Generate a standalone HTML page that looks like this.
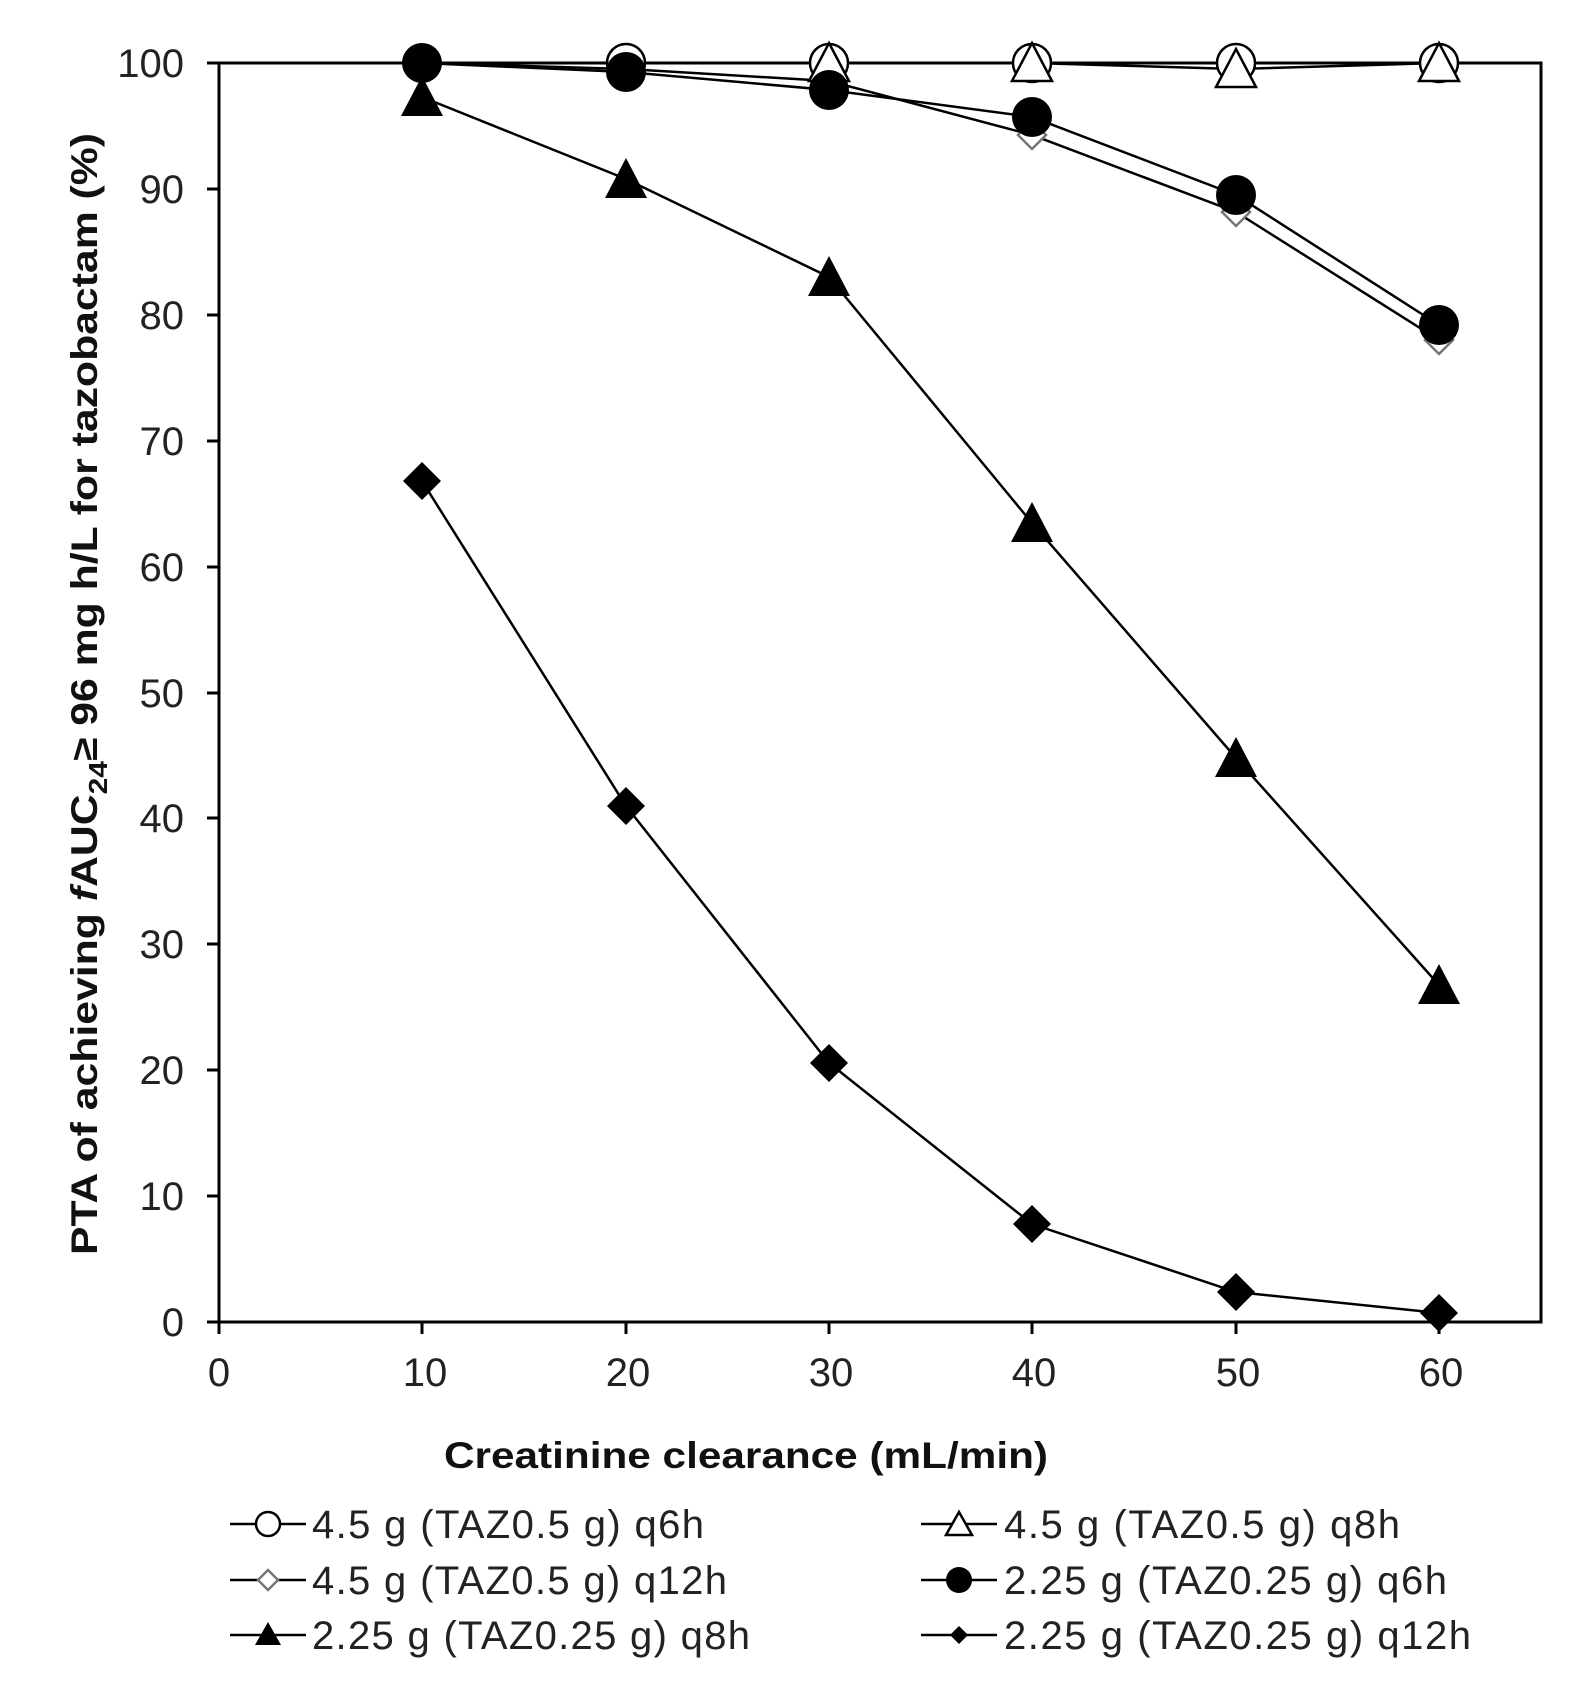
<!DOCTYPE html>
<html><head><meta charset="utf-8"><style>html,body{margin:0;padding:0;background:#fff}svg{display:block}</style></head>
<body>
<svg width="1570" height="1696" viewBox="0 0 1570 1696" xmlns="http://www.w3.org/2000/svg" font-family="Liberation Sans, Arial, sans-serif">
<defs>
<circle id="oc" r="19" fill="#fff" stroke="#000" stroke-width="2.5"/>
<circle id="fc" r="20" fill="#000"/>
<path id="ot" d="M0,-20 L20,18 L-20,18 Z" fill="#fff" stroke="#000" stroke-width="2.5"/>
<path id="ft" d="M0,-21 L21,19 L-21,19 Z" fill="#000"/>
<path id="od" d="M0,-14 L14,0 L0,14 L-14,0 Z" fill="#fff" stroke="#777" stroke-width="2.5"/>
<path id="fd" d="M0,-19 L19,0 L0,19 L-19,0 Z" fill="#000"/>
</defs>
<g stroke="#000" stroke-width="3" fill="none">
<rect x="219" y="63" width="1322" height="1259"/>
<g stroke-width="3">
<line x1="207" y1="63" x2="219" y2="63"/><line x1="207" y1="189" x2="219" y2="189"/><line x1="207" y1="315" x2="219" y2="315"/><line x1="207" y1="441" x2="219" y2="441"/><line x1="207" y1="567" x2="219" y2="567"/><line x1="207" y1="693" x2="219" y2="693"/><line x1="207" y1="818" x2="219" y2="818"/><line x1="207" y1="944" x2="219" y2="944"/><line x1="207" y1="1070" x2="219" y2="1070"/><line x1="207" y1="1196" x2="219" y2="1196"/><line x1="207" y1="1322" x2="219" y2="1322"/>
<line x1="219" y1="1322" x2="219" y2="1334"/><line x1="422" y1="1322" x2="422" y2="1334"/><line x1="626" y1="1322" x2="626" y2="1334"/><line x1="829" y1="1322" x2="829" y2="1334"/><line x1="1032" y1="1322" x2="1032" y2="1334"/><line x1="1236" y1="1322" x2="1236" y2="1334"/><line x1="1439" y1="1322" x2="1439" y2="1334"/>
</g>
</g>
<g font-size="40" fill="#222" text-anchor="end">
<text x="184" y="77">100</text><text x="184" y="203">90</text><text x="184" y="329">80</text><text x="184" y="455">70</text><text x="184" y="581">60</text><text x="184" y="707">50</text><text x="184" y="832">40</text><text x="184" y="958">30</text><text x="184" y="1084">20</text><text x="184" y="1210">10</text><text x="184" y="1336">0</text>
</g>
<g font-size="40" fill="#222" text-anchor="middle">
<text x="219" y="1386">0</text><text x="425" y="1386">10</text><text x="628" y="1386">20</text><text x="831" y="1386">30</text><text x="1034" y="1386">40</text><text x="1238" y="1386">50</text><text x="1441" y="1386">60</text>
</g>
<text x="746" y="1468" font-size="37" font-weight="bold" text-anchor="middle" fill="#111" textLength="604" lengthAdjust="spacingAndGlyphs">Creatinine clearance (mL/min)</text>
<text transform="translate(97,694) rotate(-90)" font-size="37" font-weight="bold" text-anchor="middle" fill="#111" textLength="1122" lengthAdjust="spacingAndGlyphs">PTA of achieving <tspan font-style="italic">f</tspan>AUC<tspan font-size="26" dy="10">24</tspan><tspan dy="-10">≥ 96 mg h/L for tazobactam (%)</tspan></text>
<g fill="none" stroke="#000" stroke-width="2.5">
<polyline points="422,63 626,63 829,63 1032,63 1236,63 1439,63"/>
<polyline points="422,63 626,63 829,63 1032,63 1236,69 1439,63"/>
<polyline points="422,63 626,69 829,81 1032,135 1236,212 1439,340"/>
<polyline points="422,63 626,72 829,90 1032,117 1236,195 1439,325"/>
<polyline points="422,97 626,179 829,277 1032,523 1236,758 1439,985"/>
<polyline points="422,481 626,806 829,1063 1032,1224 1236,1292 1439,1313"/>
</g>
<use href="#od" x="422" y="63"/><use href="#od" x="626" y="69"/><use href="#od" x="829" y="81"/><use href="#od" x="1032" y="135"/><use href="#od" x="1236" y="212"/><use href="#od" x="1439" y="340"/>
<use href="#oc" x="626" y="63"/><use href="#oc" x="829" y="63"/><use href="#oc" x="1032" y="63"/><use href="#oc" x="1236" y="63"/><use href="#oc" x="1439" y="63"/>
<use href="#ot" x="829" y="63"/><use href="#ot" x="1032" y="63"/><use href="#ot" x="1236" y="69"/><use href="#ot" x="1439" y="63"/>
<use href="#ft" x="422" y="97"/><use href="#ft" x="626" y="179"/><use href="#ft" x="829" y="277"/><use href="#ft" x="1032" y="523"/><use href="#ft" x="1236" y="758"/><use href="#ft" x="1439" y="985"/>
<use href="#fc" x="422" y="63"/><use href="#fc" x="626" y="72"/><use href="#fc" x="829" y="90"/><use href="#fc" x="1032" y="117"/><use href="#fc" x="1236" y="195"/><use href="#fc" x="1439" y="325"/>
<use href="#fd" x="422" y="481"/><use href="#fd" x="626" y="806"/><use href="#fd" x="829" y="1063"/><use href="#fd" x="1032" y="1224"/><use href="#fd" x="1236" y="1292"/><use href="#fd" x="1439" y="1313"/>
<g stroke="#000" stroke-width="2.5">
<line x1="230" y1="1524" x2="306" y2="1524"/><line x1="230" y1="1580" x2="306" y2="1580"/><line x1="230" y1="1635" x2="306" y2="1635"/>
<line x1="921" y1="1524" x2="997" y2="1524"/><line x1="921" y1="1580" x2="997" y2="1580"/><line x1="921" y1="1635" x2="997" y2="1635"/>
</g>
<circle cx="268" cy="1524" r="12" fill="#fff" stroke="#000" stroke-width="2.5"/>
<path d="M268,1570 L278,1580 L268,1590 L258,1580 Z" fill="#fff" stroke="#777" stroke-width="2.5"/>
<path d="M268,1622 L281,1645 L255,1645 Z" fill="#000"/>
<path d="M959,1512 L972,1535 L946,1535 Z" fill="#fff" stroke="#000" stroke-width="2.5"/>
<circle cx="959" cy="1580" r="13" fill="#000"/>
<path d="M959,1626 L968,1635 L959,1644 L950,1635 Z" fill="#000"/>
<g font-size="40" fill="#222" lengthAdjust="spacingAndGlyphs">
<text x="312" y="1538" textLength="392">4.5 g (TAZ0.5 g) q6h</text>
<text x="312" y="1594" textLength="415">4.5 g (TAZ0.5 g) q12h</text>
<text x="312" y="1649" textLength="438">2.25 g (TAZ0.25 g) q8h</text>
<text x="1004" y="1538" textLength="396">4.5 g (TAZ0.5 g) q8h</text>
<text x="1004" y="1594" textLength="443">2.25 g (TAZ0.25 g) q6h</text>
<text x="1004" y="1649" textLength="467">2.25 g (TAZ0.25 g) q12h</text>
</g>
</svg>
</body></html>
